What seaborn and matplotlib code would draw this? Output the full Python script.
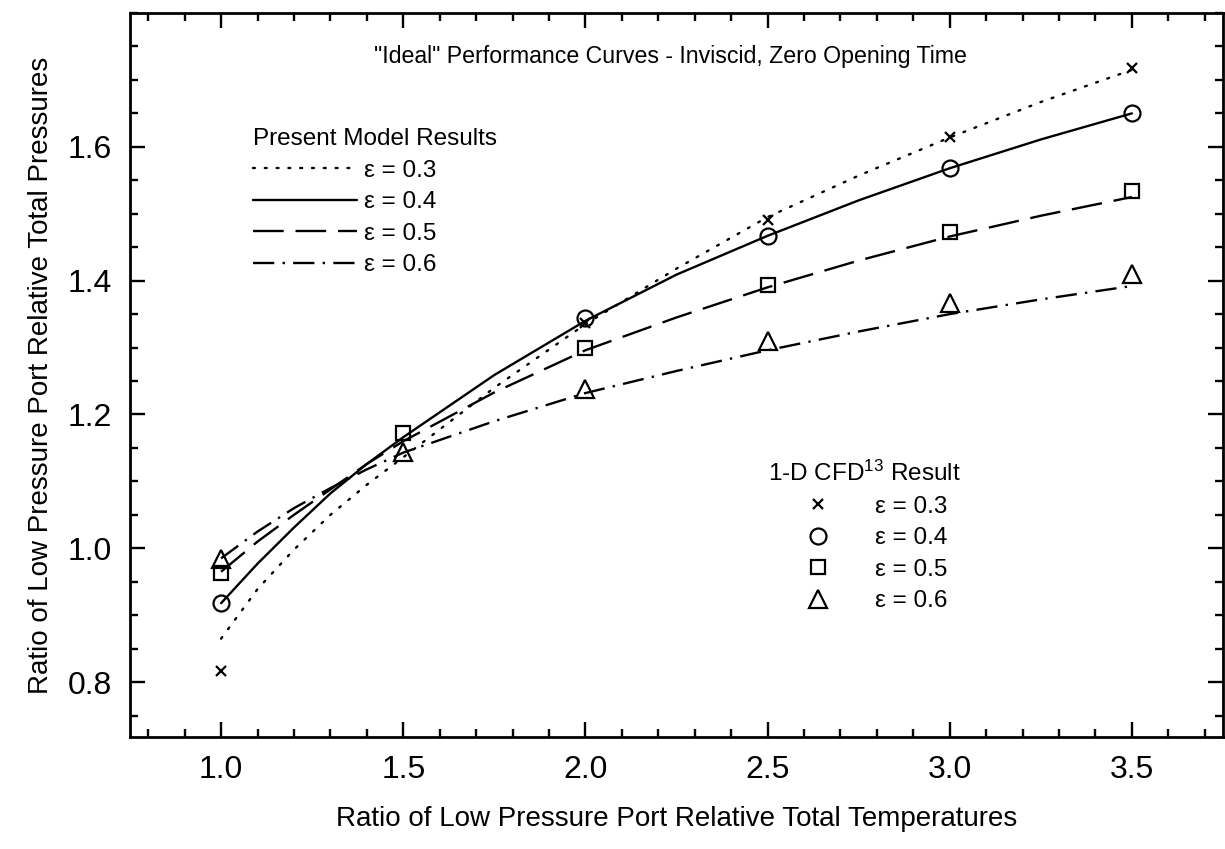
import matplotlib
matplotlib.use("Agg")
import matplotlib.pyplot as plt
from matplotlib.ticker import MultipleLocator, FixedLocator, FormatStrFormatter
import seaborn as sns
import pandas as pd

# ---------------- data ----------------
x_model = [1.0, 1.1, 1.2, 1.3, 1.4, 1.5, 1.75, 2.0, 2.25, 2.5, 2.75, 3.0, 3.25, 3.5]
model_eps03 = [0.865, 0.939, 0.998, 1.050, 1.095, 1.136, 1.240, 1.335, 1.418, 1.495, 1.557, 1.614, 1.667, 1.715]
model_eps04 = [0.918, 0.977, 1.031, 1.082, 1.126, 1.166, 1.259, 1.340, 1.409, 1.467, 1.520, 1.568, 1.611, 1.650]
model_eps05 = [0.965, 1.010, 1.050, 1.088, 1.126, 1.160, 1.233, 1.296, 1.345, 1.390, 1.430, 1.466, 1.497, 1.525]
model_eps06 = [0.985, 1.025, 1.060, 1.090, 1.118, 1.143, 1.190, 1.232, 1.265, 1.296, 1.324, 1.350, 1.372, 1.392]

x_cfd_03 = [1.0, 2.0, 2.5, 3.0, 3.5]
cfd_eps03 = [0.816, 1.336, 1.490, 1.614, 1.718]
x_cfd_04 = [1.0, 2.0, 2.5, 3.0, 3.5]
cfd_eps04 = [0.918, 1.344, 1.467, 1.569, 1.650]
x_cfd_05 = [1.0, 1.5, 2.0, 2.5, 3.0, 3.5]
cfd_eps05 = [0.963, 1.173, 1.299, 1.394, 1.472, 1.534]
x_cfd_06 = [1.0, 1.5, 2.0, 2.5, 3.0, 3.5]
cfd_eps06 = [0.984, 1.144, 1.238, 1.310, 1.366, 1.410]

eps_labels = ["ε = 0.3", "ε = 0.4", "ε = 0.5", "ε = 0.6"]
x_ticks = [1.0, 1.5, 2.0, 2.5, 3.0, 3.5]
y_ticks = [0.8, 1.0, 1.2, 1.4, 1.6]

title_text = '"Ideal" Performance Curves - Inviscid, Zero Opening Time'
legend1_title = "Present Model Results"
legend2_title = r"1-D CFD$^{\mathrm{13}}$ Result"
x_label = "Ratio of Low Pressure Port Relative Total Temperatures"
y_label = "Ratio of Low Pressure Port Relative Total Pressures"

# ---------------- style ----------------
sns.set_theme(style="white")
plt.rcParams["font.family"] = ["Liberation Sans", "DejaVu Sans"]
plt.rcParams["mathtext.fontset"] = "custom"
plt.rcParams["mathtext.rm"] = "Liberation Sans"
plt.rcParams["mathtext.it"] = "Liberation Sans:italic"
plt.rcParams["mathtext.bf"] = "Liberation Sans:bold"

fig = plt.figure(figsize=(12.25, 8.49), dpi=100)
ax = fig.add_axes([130 / 1225, 1 - 737 / 849, 1093 / 1225, 724 / 849])

model_series = [model_eps03, model_eps04, model_eps05, model_eps06]
line_styles = [(0, (0.8, 4.2)), "-", (0, (13, 5)), (0, (9, 3.5, 1, 3.5))]
model_handles = []
for i, (yv, ls) in enumerate(zip(model_series, line_styles)):
    df = pd.DataFrame({"x": x_model, "y": yv})
    sns.lineplot(data=df, x="x", y="y", ax=ax, color="black", linewidth=1.7,
                 linestyle=ls, estimator=None, sort=True,
                 dash_capstyle="round" if i == 0 else "butt")
    model_handles.append(ax.get_lines()[-1])

cfd_x = [x_cfd_03, x_cfd_04, x_cfd_05, x_cfd_06]
cfd_y = [cfd_eps03, cfd_eps04, cfd_eps05, cfd_eps06]
markers = ["x", "o", "s", "^"]
msizes = [7, 11.5, 9.5, 13.5]
cfd_handles = []
for xv, yv, mk, ms in zip(cfd_x, cfd_y, markers, msizes):
    df = pd.DataFrame({"x": xv, "y": yv})
    sns.lineplot(data=df, x="x", y="y", ax=ax, color="black", linestyle="none",
                 marker=mk, markersize=ms, markerfacecolor="none",
                 markeredgecolor="black", markeredgewidth=1.6,
                 estimator=None, sort=True)
    cfd_handles.append(ax.get_lines()[-1])

ax.set_xlim(0.75, 3.75)
ax.set_ylim(0.718, 1.8)

ax.xaxis.set_major_locator(FixedLocator(x_ticks))
ax.yaxis.set_major_locator(FixedLocator(y_ticks))
ax.xaxis.set_minor_locator(MultipleLocator(0.1))
ax.yaxis.set_minor_locator(MultipleLocator(0.05))
ax.xaxis.set_major_formatter(FormatStrFormatter("%.1f"))
ax.yaxis.set_major_formatter(FormatStrFormatter("%.1f"))

ax.tick_params(which="both", direction="in", top=True, right=True,
               bottom=True, left=True, color="black")
ax.tick_params(which="major", length=10.5, width=1.7, labelsize=23, pad=13,
               labelcolor="black")
ax.tick_params(which="minor", length=6, width=1.7)
for sp in ax.spines.values():
    sp.set_color("black")
    sp.set_linewidth(2.0)

ax.set_xlabel(x_label, fontsize=20, labelpad=15, color="black")
ax.set_ylabel(y_label, fontsize=20, labelpad=10, color="black")

ax.text(0.494, 0.94, title_text, transform=ax.transAxes, ha="center",
        va="center", fontsize=16.7, color="black")

leg1 = ax.legend(handles=model_handles, labels=eps_labels, title=legend1_title,
                 loc="upper left", bbox_to_anchor=(0.1125, 0.841),
                 frameon=False, fontsize=17.5, title_fontsize=17.5,
                 handlelength=4.3, handletextpad=0.27, labelspacing=0.39,
                 borderpad=0, borderaxespad=0, alignment="left")
for t in leg1.get_texts():
    t.set_color("black")
leg1.get_title().set_color("black")
ax.add_artist(leg1)
leg2 = ax.legend(handles=cfd_handles, labels=eps_labels, title=legend2_title,
                 loc="upper left", bbox_to_anchor=(0.584, 0.381),
                 frameon=False, fontsize=17.5, title_fontsize=17.5,
                 handlelength=4.1, handletextpad=0.27, labelspacing=0.39,
                 borderpad=0, borderaxespad=0, alignment="left")
for t in leg2.get_texts():
    t.set_color("black")
leg2.get_title().set_color("black")

fig.savefig("out.png", dpi=100)
